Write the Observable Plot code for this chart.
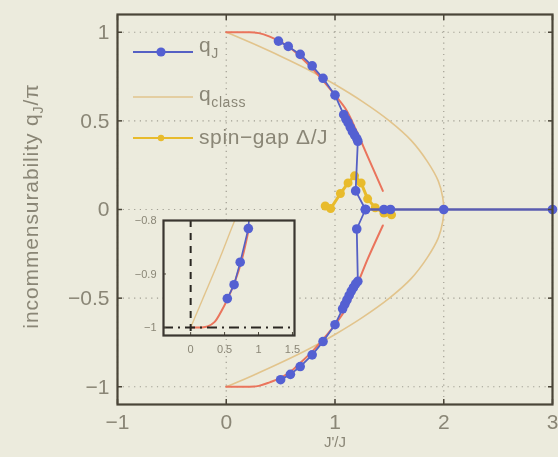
<!DOCTYPE html>
<html><head><meta charset="utf-8">
<script src="https://cdn.jsdelivr.net/npm/d3@7"></script>
<script src="https://cdn.jsdelivr.net/npm/@observablehq/plot@0.6"></script>
<style>
html,body{margin:0;padding:0;background:#ecebdd;}
#wrap{position:relative;width:558px;height:457px;overflow:hidden;font-family:"Liberation Sans",Arial,sans-serif;background:#ecebdd;filter:blur(0.4px);}
#wrap > svg{position:absolute;}
.txt{position:absolute;white-space:nowrap;line-height:1;}
</style></head><body><div id="wrap"></div>
<script>
// ---------- data ----------
const xTicks = [-1, 0, 1, 2, 3];
const yTicks = [-1, -0.5, 0, 0.5, 1];
const insetXTicks = [0, 0.5, 1, 1.5];
const insetYTicks = [-1, -0.9, -0.8];

// q_J (blue) – upper branch, lower branch, tail on q = 0
const qjUpperX = [0.48, 0.57, 0.68, 0.79, 0.89, 1.00, 1.08, 1.10, 1.12, 1.14, 1.16, 1.18, 1.20, 1.21, 1.19, 1.28];
const qjUpperY = [0.95, 0.92, 0.875, 0.81, 0.74, 0.645, 0.535, 0.51, 0.49, 0.465, 0.44, 0.42, 0.40, 0.385, 0.105, 0.0];
const qjLowerX = [0.50, 0.59, 0.68, 0.79, 0.89, 1.00, 1.07, 1.09, 1.11, 1.13, 1.15, 1.17, 1.19, 1.21, 1.20, 1.28];
const qjLowerY = [-0.96, -0.93, -0.886, -0.82, -0.745, -0.65, -0.56, -0.535, -0.51, -0.485, -0.46, -0.44, -0.42, -0.405, -0.11, 0.0];
const qjTailX = [1.28, 1.45, 1.51, 2.0, 3.0];
const qjTailY = [0, 0, 0, 0, 0];

// red reference curve
const redUpperX = [0, 0.1, 0.2, 0.3, 0.4, 0.5, 0.6, 0.7, 0.8, 0.9, 1.0, 1.1, 1.2, 1.3, 1.44];
const redUpperY = [1, 1, 1, 0.995, 0.975, 0.945, 0.905, 0.85, 0.79, 0.72, 0.645, 0.565, 0.44, 0.30, 0.105];
const redLowerX = [0, 0.1, 0.2, 0.3, 0.4, 0.5, 0.6, 0.7, 0.8, 0.9, 1.0, 1.1, 1.2, 1.3, 1.44];
const redLowerY = [-1, -1, -1, -0.995, -0.975, -0.95, -0.91, -0.855, -0.795, -0.725, -0.65, -0.56, -0.43, -0.28, -0.09];

// q_class (tan)
const qClassX = [0, 0.1, 0.25, 0.5, 0.75, 1.0, 1.25, 1.5, 1.7, 1.85, 1.95, 1.99, 2.0, 1.99, 1.95, 1.85, 1.7, 1.5, 1.25, 1.0, 0.75, 0.5, 0.25, 0.1, 0];
const qClassY = [1, 0.975, 0.935, 0.865, 0.79, 0.705, 0.61, 0.5, 0.39, 0.27, 0.16, 0.07, 0, -0.07, -0.16, -0.27, -0.39, -0.5, -0.61, -0.705, -0.79, -0.865, -0.935, -0.975, -1];

// spin gap Δ/J (yellow)
const gapX = [0.91, 0.96, 1.05, 1.12, 1.18, 1.24, 1.30, 1.37, 1.45, 1.52];
const gapY = [0.02, 0.005, 0.09, 0.15, 0.19, 0.15, 0.06, 0.01, -0.02, -0.03];

// inset (zoom near q = -1)
const insetQjX = [0.54, 0.64, 0.73, 0.85, 0.89];
const insetQjY = [-0.946, -0.92, -0.878, -0.815, -0.745];
const insetRedX = [0, 0.15, 0.25, 0.35, 0.45, 0.55, 0.65, 0.75, 0.85];
const insetRedY = [-1, -1, -0.998, -0.99, -0.97, -0.945, -0.915, -0.875, -0.82];
const insetTanX = [0, 0.05, 0.2, 0.4, 0.63, 0.75];
const insetTanY = [-1, -0.985, -0.94, -0.88, -0.806, -0.77];
const insetRefX = [0];
const insetRefY = [-1];

// ---------- styles ----------
const BG = "#ecebdd";
const BLUE = "#5460d2", BLUE_LINE = "#5560c4";
const TAN = "#e2c48c", RED = "#ea745c", GOLD = "#e8bb2c";
const FRAME = "#4a4538", TXT = "#8a8676";
const fmt = d => (d < 0 ? "\u2212" : "") + Math.abs(d);
const pts = (xs, ys) => xs.map((x, i) => ({x, y: ys[i]}));

const wrap = document.getElementById("wrap");

const grid = {stroke: "#6e6b60", strokeOpacity: 0.6, strokeWidth: 1.2, strokeDasharray: "1.2,4.5"};

const main = Plot.plot({
  width: 558, height: 457,
  marginLeft: 117, marginRight: 6, marginTop: 14, marginBottom: 53,
  style: {background: "transparent", fontFamily: "Liberation Sans, Arial, sans-serif", overflow: "visible"},
  x: {domain: [-1, 3]},
  y: {domain: [-1.1, 1.1]},
  marks: [
    Plot.gridX({ticks: xTicks, ...grid}),
    Plot.gridY({ticks: yTicks, ...grid}),
    Plot.line(pts(qClassX, qClassY), {x: "x", y: "y", stroke: TAN, strokeWidth: 1.6, curve: "catmull-rom"}),
    Plot.line(pts(redUpperX, redUpperY), {x: "x", y: "y", stroke: RED, strokeWidth: 2, curve: "catmull-rom"}),
    Plot.line(pts(redLowerX, redLowerY), {x: "x", y: "y", stroke: RED, strokeWidth: 2, curve: "catmull-rom"}),
    Plot.line(pts(gapX, gapY), {x: "x", y: "y", stroke: GOLD, strokeWidth: 3}),
    Plot.dot(pts(gapX, gapY), {x: "x", y: "y", r: 4.5, fill: GOLD}),
    Plot.line(pts(qjUpperX, qjUpperY), {x: "x", y: "y", stroke: BLUE_LINE, strokeWidth: 1.8}),
    Plot.line(pts(qjLowerX, qjLowerY), {x: "x", y: "y", stroke: BLUE_LINE, strokeWidth: 1.8}),
    Plot.line(pts(qjTailX, qjTailY), {x: "x", y: "y", stroke: "#5a5cb0", strokeWidth: 2.4}),
    Plot.dot(pts(qjUpperX, qjUpperY), {x: "x", y: "y", r: 4.8, fill: BLUE}),
    Plot.dot(pts(qjLowerX, qjLowerY), {x: "x", y: "y", r: 4.8, fill: BLUE}),
    Plot.dot(pts(qjTailX, qjTailY), {x: "x", y: "y", r: 4.8, fill: BLUE}),
    Plot.axisX({ticks: xTicks, tickSize: -5, tickPadding: 15, fontSize: 21, tickFormat: fmt, label: null, fill: TXT, stroke: FRAME, strokeWidth: 1.5}),
    Plot.axisX({ticks: xTicks, anchor: "top", tickSize: -5, tickFormat: () => "", label: null, stroke: FRAME, strokeWidth: 1.5}),
    Plot.axisY({ticks: yTicks, tickSize: -5, tickPadding: 13, fontSize: 21, tickFormat: fmt, label: null, fill: TXT, stroke: FRAME, strokeWidth: 1.5}),
    Plot.axisY({ticks: yTicks, anchor: "right", tickSize: -5, tickFormat: () => "", label: null, stroke: FRAME, strokeWidth: 1.5}),
    Plot.frame({stroke: FRAME, strokeWidth: 2.2})
  ]
});
main.style.left = "0px"; main.style.top = "0px";
wrap.appendChild(main);

// ---------- inset ----------
const inset = Plot.plot({
  width: 171, height: 142,
  marginLeft: 35, marginRight: 5, marginTop: 5, marginBottom: 22,
  style: {background: "transparent", fontFamily: "Liberation Sans, Arial, sans-serif", overflow: "visible"},
  x: {domain: [-0.4, 1.53]},
  y: {domain: [-1.015, -0.8]},
  marks: [
    Plot.frame({fill: BG}),
    Plot.line(pts(insetTanX, insetTanY), {x: "x", y: "y", stroke: TAN, strokeWidth: 1.4, clip: true, curve: "catmull-rom"}),
    Plot.line(pts(insetRedX, insetRedY), {x: "x", y: "y", stroke: RED, strokeWidth: 2, clip: true, curve: "catmull-rom"}),
    Plot.ruleX(insetRefX, {stroke: "#2a2722", strokeWidth: 2, strokeDasharray: "7,6"}),
    Plot.ruleY(insetRefY, {stroke: "#2a2722", strokeWidth: 2.2, strokeDasharray: "10,5,2,5"}),
    Plot.line(pts(insetQjX, insetQjY), {x: "x", y: "y", stroke: BLUE_LINE, strokeWidth: 1.6, clip: true}),
    Plot.dot(pts(insetQjX, insetQjY), {x: "x", y: "y", r: 4.8, fill: BLUE, clip: true}),
    Plot.axisX({ticks: insetXTicks, tickSize: -3, tickPadding: 13, fontSize: 11, tickFormat: fmt, label: null, fill: TXT, stroke: FRAME}),
    Plot.axisY({ticks: insetYTicks, tickSize: -3, tickPadding: 10, fontSize: 11, tickFormat: fmt, label: null, fill: TXT, stroke: FRAME}),
    Plot.frame({stroke: "#3a3630", strokeWidth: 2.2})
  ]
});
inset.style.left = "128px"; inset.style.top = "215px";
wrap.appendChild(inset);

// ---------- legend ----------
const legend = [
  {key: "q", sub: "J", color: BLUE_LINE, dot: BLUE, cy: 52, top: 34, w: 2},
  {key: "q", sub: "class", color: TAN, dot: null, cy: 97, top: 83, w: 1.6},
  {key: "spin\u2212gap \u0394/J", sub: "", color: GOLD, dot: GOLD, cy: 138, top: 126, w: 2.2}
];
legend.forEach(e => {
  const s = document.createElementNS("http://www.w3.org/2000/svg", "svg");
  s.setAttribute("width", 70); s.setAttribute("height", 14);
  s.style.left = "128px"; s.style.top = (e.cy - 7) + "px";
  s.innerHTML = `<line x1="5" x2="65" y1="7" y2="7" stroke="${e.color}" stroke-width="${e.w}"/>` +
    (e.dot ? `<circle cx="33" cy="7" r="${e.dot === GOLD ? 3.2 : 4.6}" fill="${e.dot}"/>` : "");
  wrap.appendChild(s);
  const t = document.createElement("div");
  t.className = "txt";
  t.style.left = "199px"; t.style.top = e.top + "px";
  t.style.fontSize = "21px"; t.style.color = TXT; t.style.letterSpacing = "0.6px";
  t.innerHTML = e.key + (e.sub ? `<sub style="font-size:14px;vertical-align:-6px;">${e.sub}</sub>` : "");
  wrap.appendChild(t);
});

// ---------- axis titles ----------
const yl = document.createElement("div");
yl.className = "txt";
yl.style.left = "32px"; yl.style.top = "206px";
yl.style.fontSize = "21px"; yl.style.color = TXT; yl.style.letterSpacing = "0.9px";
yl.style.transform = "translate(-50%,-50%) rotate(-90deg)";
yl.innerHTML = 'incommensurability q<sub style="font-size:14px;vertical-align:-5px;">J</sub>/\u03c0';
wrap.appendChild(yl);

const xl = document.createElement("div");
xl.className = "txt";
xl.style.left = "335px"; xl.style.top = "441px";
xl.style.fontSize = "15px"; xl.style.color = TXT;
xl.style.transform = "translate(-50%,-50%)";
xl.textContent = "J'/J";
wrap.appendChild(xl);
</script>
</body></html>
